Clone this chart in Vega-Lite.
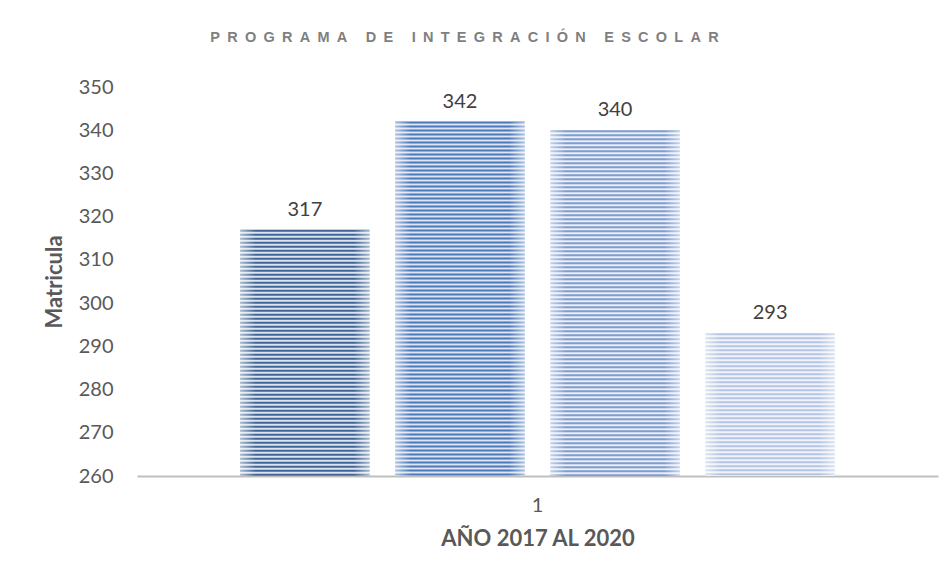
{
  "$schema": "https://vega.github.io/schema/vega-lite/v6.json",
  "width": 801,
  "height": 389,
  "autosize": {"type": "none"},
  "padding": {"left": 137, "top": 87, "right": 14, "bottom": 102},
  "background": "white",
  "config": {"view": {"stroke": null}, "font": "Lato"},
  "title": {
    "text": "P\u2002R\u2002O\u2002G\u2002R\u2002A\u2002M\u2002A\u2002 \u2002D\u2002E\u2002 \u2002I\u2002N\u2002T\u2002E\u2002G\u2002R\u2002A\u2002C\u2002I\u2002Ó\u2002N\u2002 \u2002E\u2002S\u2002C\u2002O\u2002L\u2002A\u2002R",
    "font": "Liberation Sans",
    "fontSize": 14.5,
    "fontWeight": "bold",
    "color": "#7F7F7F",
    "anchor": "middle",
    "frame": "group",
    "offset": 12,
    "dx": -73
  },
  "data": {
    "values": [
      {"cat": "1", "serie": "2017", "valor": 317},
      {"cat": "1", "serie": "2018", "valor": 342},
      {"cat": "1", "serie": "2019", "valor": 340},
      {"cat": "1", "serie": "2020", "valor": 293}
    ]
  },
  "encoding": {
    "x": {
      "field": "cat",
      "type": "nominal",
      "scale": {"paddingInner": 0, "paddingOuter": 0.174},
      "axis": {
        "title": "AÑO 2017 AL 2020",
        "labelAngle": 0,
        "domainColor": "#BFBFBF",
        "domainWidth": 2,
        "ticks": false,
        "labelPadding": 19,
        "labelFont": "Lato",
        "labelFontSize": 20,
        "labelColor": "#595959",
        "titleFont": "Lato",
        "titleFontSize": 22,
        "titleFontWeight": "bold",
        "titleColor": "#595959",
        "titlePadding": 13
      }
    },
    "xOffset": {
      "field": "serie",
      "type": "nominal",
      "scale": {"domain": ["2017", "2018", "2019", "2020"], "paddingInner": 0.168, "paddingOuter": 0}
    },
    "y": {
      "field": "valor",
      "type": "quantitative",
      "scale": {"domain": [260, 350], "zero": false, "nice": false},
      "axis": {
        "title": "Matricula",
        "titleFont": "Lato",
        "titleFontSize": 22,
        "titleFontWeight": "bold",
        "titleColor": "#595959",
        "titlePadding": 12,
        "labelFont": "Lato",
        "labelFontSize": 20,
        "labelColor": "#595959",
        "labelPadding": 24,
        "domain": false,
        "ticks": false,
        "grid": false,
        "values": [260, 270, 280, 290, 300, 310, 320, 330, 340, 350]
      }
    }
  },
  "layer": [
    {
      "mark": {"type": "bar"},
      "encoding": {
        "y2": {"datum": 260},
        "fill": {
          "field": "serie",
          "type": "nominal",
          "scale": {"domain": ["2017", "2018", "2019", "2020"], "range": ["#DCE3EE", "#DDE5F2", "#E8EDF7", "#F0F3F9"]},
          "legend": null
        }
      }
    },
    {
      "mark": {"type": "rule", "strokeWidth": 129, "strokeDash": [2, 2], "strokeCap": "butt"},
      "encoding": {
        "y2": {"datum": 260},
        "stroke": {
          "field": "serie",
          "type": "nominal",
          "scale": {"domain": ["2017", "2018", "2019", "2020"], "range": ["#3F6597", "#4A78B8", "#7F9CD0", "#B5C4E2"]},
          "legend": null
        }
      }
    },
    {
      "mark": {
        "type": "bar",
        "color": {
          "gradient": "linear",
          "x1": 0, "y1": 0, "x2": 1, "y2": 0,
          "stops": [
            {"offset": 0, "color": "rgba(255,255,255,0.55)"},
            {"offset": 0.12, "color": "rgba(255,255,255,0)"},
            {"offset": 0.88, "color": "rgba(255,255,255,0)"},
            {"offset": 1, "color": "rgba(255,255,255,0.55)"}
          ]
        }
      },
      "encoding": {"y2": {"datum": 260}}
    },
    {
      "mark": {"type": "text", "baseline": "bottom", "dy": -10, "fontSize": 20, "color": "#404040", "font": "Lato"},
      "encoding": {"text": {"field": "valor", "type": "quantitative"}}
    }
  ]
}
